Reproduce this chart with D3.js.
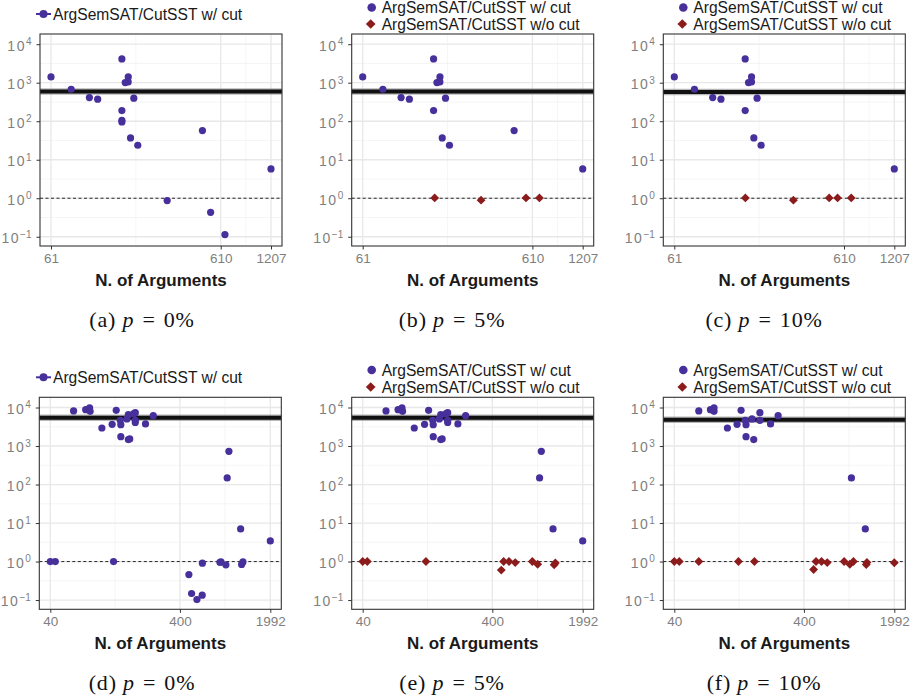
<!DOCTYPE html>
<html>
<head>
<meta charset="utf-8">
<script src="https://cdn.jsdelivr.net/npm/d3@7"></script>
<style>
  body { margin: 0; background: #fff; }
  svg { display: block; }
</style>
</head>
<body>
<div id="chart"></div>
<script>
// tick values
const topXTicks = [61, 610, 1207];
const bottomXTicks = [40, 400, 1992];
const yTicks = [0.1, 1, 10, 100, 1000, 10000];

// [n. of arguments, ratio]
const cutA = [[61,1413],[80.2,677],[102.7,412],[114.9,373],[159.6,4159],[159.6,189],[159.6,106],[159.6,96],
  [167,1010],[173.8,1050],[174,1413],[187.6,396],[179.5,36.9],[198,23.8],[295,0.87],[476,57.2],
  [532,0.43],[646,0.114],[1207,5.78]];
const cutB = [[61,1413],[80.2,677],[102.7,412],[114.9,373],[159.6,4159],[159.6,189],[167,1010],
  [173.8,1050],[174,1413],[187.6,396],[179.5,36.9],[198,23.8],[476,57.2],[1207,5.78]];
const noCutB = [[162,1.02],[304,0.89],[559,1.02],[671,1.02]];
const cutC = [[61,1413],[80.2,677],[102.7,412],[114.9,373],[159.6,4159],[159.6,189],[167,1010],
  [173.8,1050],[174,1413],[187.6,396],[179.5,36.9],[198,23.8],[1207,5.78]];
const noCutC = [[160,1.02],[307,0.89],[499,1.02],[559,1.02],[673,1.02]];

const cutD = [[60.5,8130],[75,8800],[80.4,9730],[81.2,7960],[100,2940],[120,3660],[129,8460],[138.6,4650],
  [140,3590],[140,1750],[156,5040],[160,6530],[160,1466],[164,1530],[176,6930],[181,7330],[181,4650],
  [181,4100],[217,3740],[249,6150],
  [40,1.0],[43.7,1.0],[123,1.0],[469,0.46],[492,0.148],[541,0.103],[594,0.134],[596,0.905],[814,0.96],
  [830,0.98],[905,0.82],[926,148],[955,730],[1176,7.05],[1197,0.84],[1225,0.98],[1992,3.44]];
const cutE = [[60.5,8130],[75,8800],[80.4,9730],[81.2,7960],[100,2940],[120,3660],[129,8460],[138.6,4650],
  [140,3590],[140,1750],[156,5040],[160,6530],[160,1466],[164,1530],[176,6930],[181,7330],[181,4650],
  [181,4100],[217,3740],[249,6150],[926,148],[955,730],[1176,7.05],[1992,3.44]];
const noCutE = [[40,1.0],[43.4,1.0],[123,1.0],[469,0.6],[489,1.0],[538,1.0],[601,0.94],[814,1.0],
  [895,0.85],[1200,0.82],[1225,0.92]];
const cutF = [[61.8,8130],[76,8800],[81,9730],[81,7960],[102.7,2940],[122,3660],[131,8460],[141,4650],
  [143,3590],[143,1750],[159,5040],[164,1466],[183,7330],[183,4650],[221,3740],[253,6150],
  [930,148],[1190,7.05]];
const noCutF = [[40,1.0],[43.7,1.0],[61.8,1.0],[125,1.0],[166,1.0],[475,0.62],[496,1.0],[547,1.0],
  [605,0.94],[817,1.0],[904,0.85],[964,1.0],[1210,0.84],[1225,0.95],[1992,0.93]];

const refLines = [590, 590, 570, 5460, 5460, 4840];
const captions = ["(a)", "(b)", "(c)", "(d)", "(e)", "(f)"];
const pValues = ["0%", "5%", "10%", "0%", "5%", "10%"];

const blue = "#47309b", red = "#8c1c1c";
const W = 917, H = 699, pw = 242, ph = 212;

const panels = [
  {left: 40,    top: 34,    ticks: topXTicks,    cut: cutA, noCut: null},
  {left: 351.7, top: 34,    ticks: topXTicks,    cut: cutB, noCut: noCutB},
  {left: 663.3, top: 34,    ticks: topXTicks,    cut: cutC, noCut: noCutC},
  {left: 39.3,  top: 397.3, ticks: bottomXTicks, cut: cutD, noCut: null},
  {left: 351.7, top: 397.3, ticks: bottomXTicks, cut: cutE, noCut: noCutE},
  {left: 663.3, top: 397.3, ticks: bottomXTicks, cut: cutF, noCut: noCutF}
];
const capCenters = [142, 452, 764];

const svg = d3.select("#chart").append("svg")
  .attr("width", W).attr("height", H)
  .style("font-family", "'Liberation Sans', Arial, sans-serif");

const diamond = d3.symbol().type(d3.symbolDiamond2);

panels.forEach(function(p, i) {
  const lo = Math.log10(p.ticks[0]), hi = Math.log10(p.ticks[p.ticks.length - 1]);
  const pad = (hi - lo) * 0.05;
  const x = d3.scaleLog().domain([10 ** (lo - pad), 10 ** (hi + pad)]).range([0, pw]);
  const y = d3.scaleLog().domain([10 ** -1.24, 10 ** 4.265]).range([ph, 0]);

  const g = svg.append("g").attr("transform", "translate(" + p.left + "," + p.top + ")");

  // grid: minor at log midpoints, then major
  const xMinor = d3.pairs(p.ticks).map(function(d) { return Math.sqrt(d[0] * d[1]); });
  const yMinor = d3.pairs(yTicks).map(function(d) { return Math.sqrt(d[0] * d[1]); });
  g.selectAll(".xminor").data(xMinor).join("line")
    .attr("x1", d => x(d)).attr("x2", d => x(d)).attr("y1", 0).attr("y2", ph)
    .attr("stroke", "#f0f0f0").attr("stroke-width", 0.7);
  g.selectAll(".yminor").data(yMinor).join("line")
    .attr("y1", d => y(d)).attr("y2", d => y(d)).attr("x1", 0).attr("x2", pw)
    .attr("stroke", "#f0f0f0").attr("stroke-width", 0.7);
  g.selectAll(".xmajor").data(p.ticks).join("line")
    .attr("x1", d => x(d)).attr("x2", d => x(d)).attr("y1", 0).attr("y2", ph)
    .attr("stroke", "#e8e8e8").attr("stroke-width", 1.3);
  g.selectAll(".ymajor").data(yTicks).join("line")
    .attr("y1", d => y(d)).attr("y2", d => y(d)).attr("x1", 0).attr("x2", pw)
    .attr("stroke", "#e8e8e8").attr("stroke-width", 1.3);

  // reference lines
  g.append("line").attr("x1", 0).attr("x2", pw).attr("y1", y(refLines[i])).attr("y2", y(refLines[i]))
    .attr("stroke", "#999").attr("stroke-width", 6.5).attr("stroke-opacity", 0.7);
  g.append("line").attr("x1", 0).attr("x2", pw).attr("y1", y(refLines[i])).attr("y2", y(refLines[i]))
    .attr("stroke", "#111").attr("stroke-width", 4);
  g.append("line").attr("x1", 0).attr("x2", pw).attr("y1", y(1)).attr("y2", y(1))
    .attr("stroke", "#111").attr("stroke-width", 0.9).attr("stroke-dasharray", "3,2.5");

  // points
  g.selectAll(".cut").data(p.cut).join("circle")
    .attr("cx", d => x(d[0])).attr("cy", d => y(d[1])).attr("r", 3.6).attr("fill", blue);
  if (p.noCut) {
    g.selectAll(".nocut").data(p.noCut).join("path")
      .attr("d", diamond.size(50))
      .attr("transform", d => "translate(" + x(d[0]) + "," + y(d[1]) + ")")
      .attr("fill", red);
  }

  // panel border
  g.append("rect").attr("width", pw).attr("height", ph)
    .attr("fill", "none").attr("stroke", "#333").attr("stroke-width", 1.1);

  // axes
  const xAxis = g.append("g").attr("transform", "translate(0," + ph + ")")
    .call(d3.axisBottom(x).tickValues(p.ticks).tickSize(3.5).tickPadding(4).tickFormat(d3.format("d")));
  xAxis.select(".domain").remove();
  xAxis.selectAll("line").attr("stroke", "#333");
  xAxis.selectAll("text").attr("fill", "#7f7f7f").style("font-size", "13.5px")
    .style("font-family", "'Liberation Sans', Arial, sans-serif");

  const yAxis = g.append("g")
    .call(d3.axisLeft(y).tickValues(yTicks).tickSize(3.5).tickPadding(5).tickFormat(""));
  yAxis.select(".domain").remove();
  yAxis.selectAll("line").attr("stroke", "#333");
  yAxis.selectAll(".tick text")
    .attr("fill", "#7f7f7f").attr("dy", "0.42em")
    .style("font-size", "14px").style("font-family", "'Liberation Sans', Arial, sans-serif")
    .each(function(d) {
      const t = d3.select(this);
      t.append("tspan").text("10").attr("letter-spacing", "1.5px");
      t.append("tspan").text(String(Math.round(Math.log10(d))).replace("-", "\u2212"))
        .attr("dy", "-0.55em").style("font-size", "10px");
    });

  g.append("text").attr("x", pw / 2).attr("y", ph + 40)
    .attr("text-anchor", "middle").attr("fill", "#1a1a1a")
    .style("font-size", "17px").style("font-weight", "bold")
    .text("N. of Arguments");

  // legend
  const lg = svg.append("g");
  const row = i < 3 ? 0 : 363.3;
  if (!p.noCut) {
    lg.append("line").attr("x1", 36).attr("x2", 51).attr("y1", row + 14).attr("y2", row + 14)
      .attr("stroke", blue).attr("stroke-width", 2);
    lg.append("circle").attr("cx", 43.5).attr("cy", row + 14).attr("r", 4).attr("fill", blue);
    lg.append("text").attr("x", 53).attr("y", row + 20).style("font-size", "15.6px")
      .attr("fill", "#1a1a1a").text("ArgSemSAT/CutSST w/ cut");
  } else {
    const lx = p.left + 20;
    const y1 = i < 3 ? 7.5 : 370, y2 = i < 3 ? 24 : 387;
    lg.append("circle").attr("cx", lx).attr("cy", y1).attr("r", 4.3).attr("fill", blue);
    lg.append("text").attr("x", lx + 10).attr("y", y1 + 5.5).style("font-size", "15.6px")
      .attr("fill", "#1a1a1a").text("ArgSemSAT/CutSST w/ cut");
    lg.append("path").attr("d", diamond.size(60)).attr("transform", "translate(" + (lx - 1) + "," + y2 + ")")
      .attr("fill", red);
    lg.append("text").attr("x", lx + 10).attr("y", y2 + 5.5).style("font-size", "15.6px")
      .attr("fill", "#1a1a1a").text("ArgSemSAT/CutSST w/o cut");
  }

  // caption
  const cap = svg.append("text").attr("x", capCenters[i % 3]).attr("y", (i < 3 ? 327 : 690))
    .attr("text-anchor", "middle")
    .style("font-family", "'Liberation Serif', 'Times New Roman', serif").style("font-size", "22px")
    .attr("letter-spacing", "0.8px").attr("fill", "#111");
  cap.append("tspan").text(captions[i] + " ");
  cap.append("tspan").text("p").style("font-style", "italic");
  cap.append("tspan").text("\u2004=\u2004" + pValues[i]);
});
</script>
</body>
</html>
